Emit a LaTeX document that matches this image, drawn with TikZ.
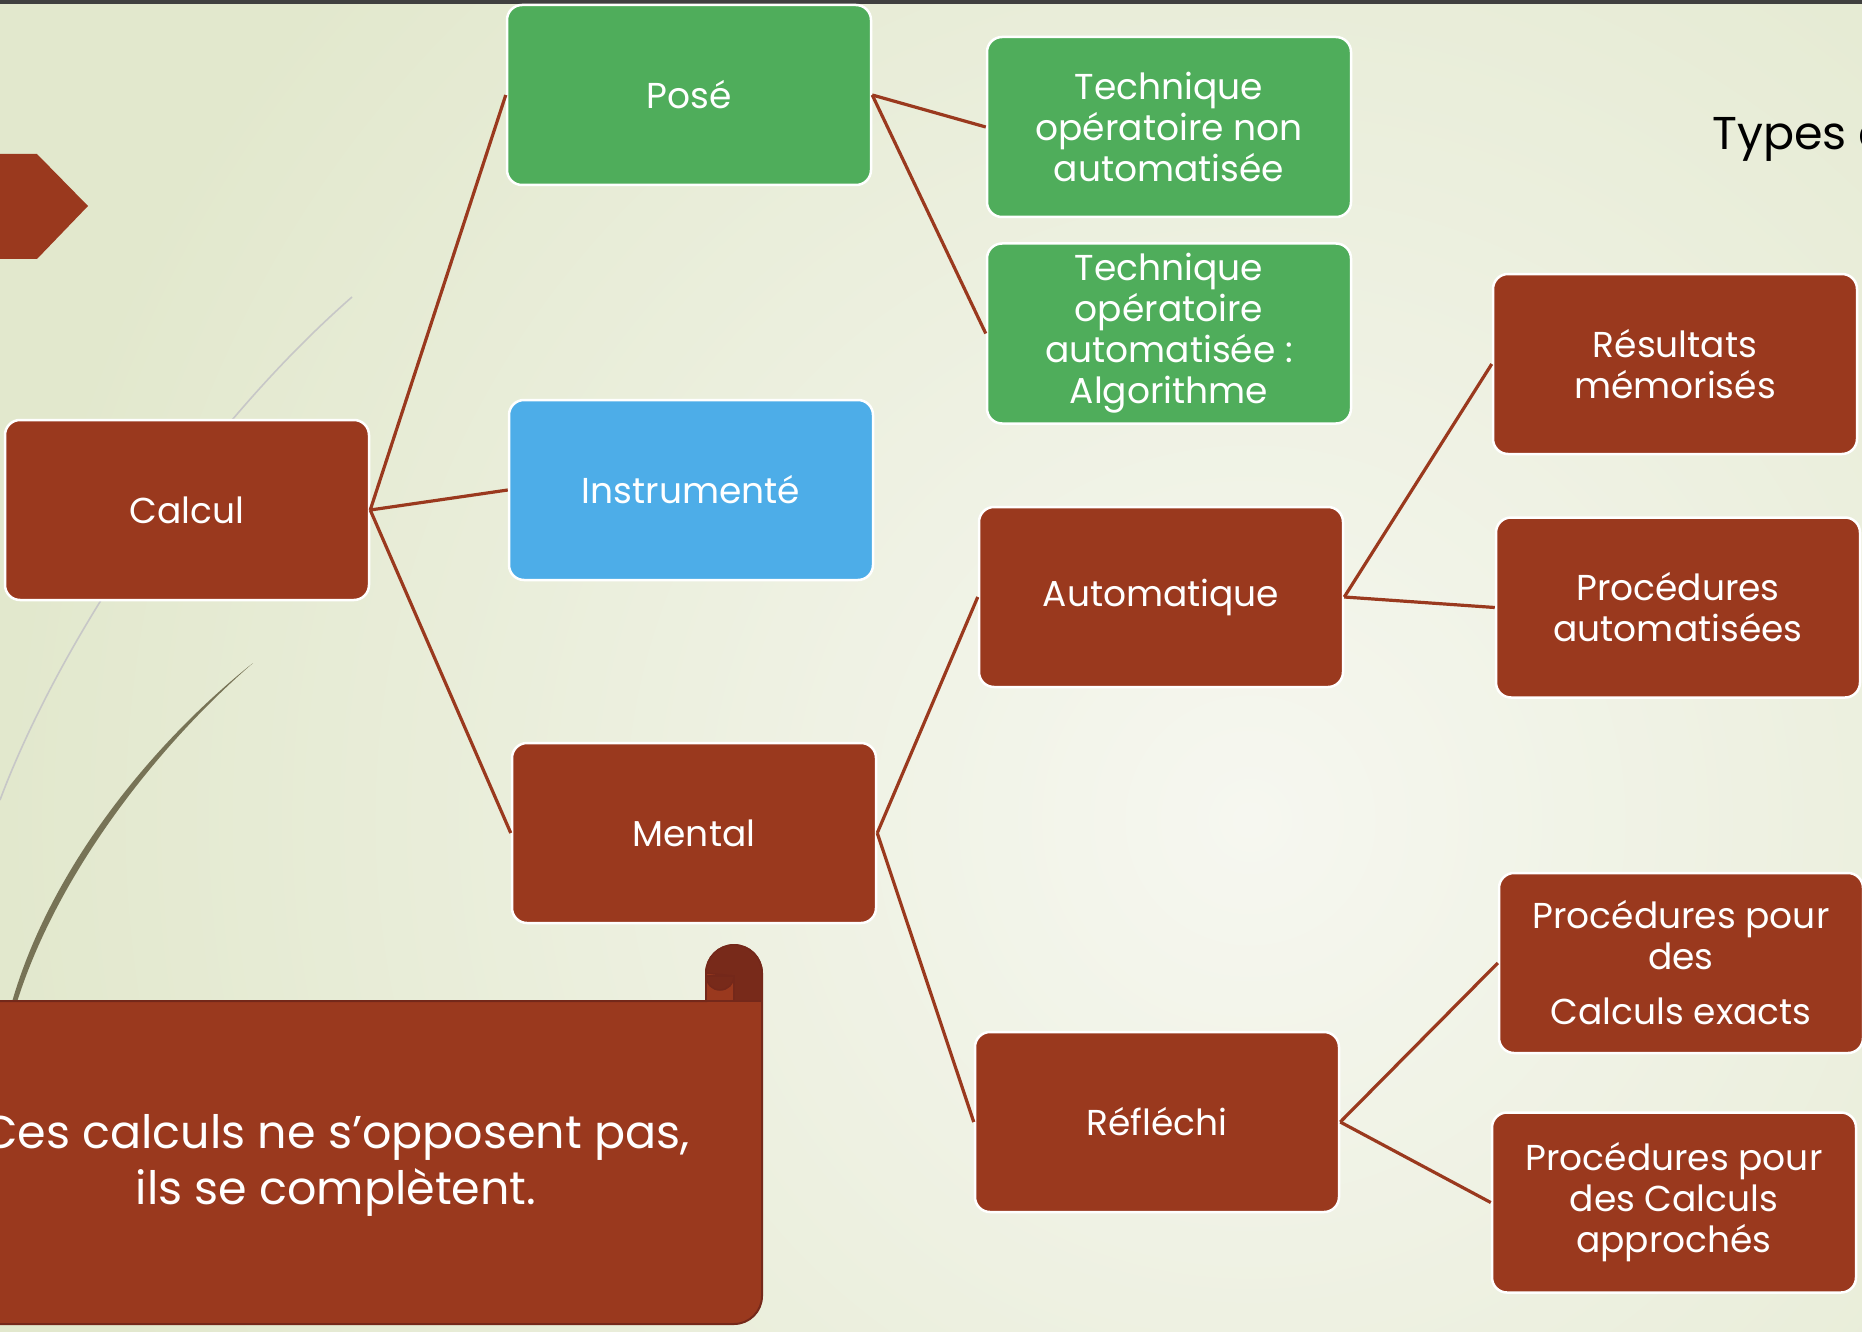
\documentclass[tikz,border=0pt]{standalone}
\usepackage{fontspec}
\setmainfont{Poppins}
\usetikzlibrary{positioning}

\definecolor{brique}{HTML}{9A391E}
\definecolor{briquefonce}{HTML}{74281A}
\definecolor{herbe}{HTML}{4FAD5B}
\definecolor{ciel}{HTML}{4DADE8}
\definecolor{fondA}{HTML}{E2E8CD}
\definecolor{fondB}{HTML}{F6F7F0}

\tikzset{
  boite/.style={draw=white, line width=2.5pt, rounded corners=15pt, text=white,
    align=center, minimum width=364pt, minimum height=180pt, inner sep=0pt,
    font=\fontsize{36}{41}\selectfont},
  rouge/.style={boite, fill=brique},
  vert/.style={boite, fill=herbe},
  bleu/.style={boite, fill=ciel},
  lien/.style={draw=brique, line width=3.2pt}
}

\begin{document}
\begin{tikzpicture}[x=1pt, y=-1pt]
  \path[use as bounding box, clip] (0,0) rectangle (1862,1332);

  % fond
  \fill[fondA] (0,0) rectangle (1862,1332);
  \shade[inner color=fondB, outer color=fondA] (1250,820) circle (1250);
  \fill[black!75] (0,0) rectangle (1862,4);

  % courbes decoratives
  \draw[black!22, line width=1.6pt] (352,297) .. controls (200,430) and (60,640) .. (0,800);
  \fill[black!45!olive!50!gray] (253,663) .. controls (150,745) and (50,870) .. (12,1002)
    -- (17,1002) .. controls (57,875) and (155,748) .. (253,663);

  % fleche
  \fill[brique] (0,154) -- (37,154) -- (88,206) -- (37,259) -- (0,259) -- cycle;

  % titre
  \node[anchor=base west, font=\fontsize{46}{54}\selectfont, inner sep=0pt] (titre) at (1712,150) {Types d};

  % rouleau
  \filldraw[fill=brique, draw=briquefonce, line width=2pt]
    (-80,1001) -- (706,1001) -- (706,973) arc[start angle=180, end angle=360, radius=28]
    [rounded corners=28pt] -- (762,1324) -- (-80,1324) -- cycle;
  \filldraw[fill=briquefonce!90!brique, draw=briquefonce, line width=1.5pt]
    (706,973) arc[start angle=180, end angle=360, radius=28] -- (762,1001) -- (734,1001) -- (734,976) -- cycle;
  \filldraw[fill=brique, draw=briquefonce, line width=1.5pt] (706,976) rectangle (734,1001);
  \filldraw[fill=briquefonce!90!brique, draw=briquefonce, line width=1.5pt]
    (706,976) arc[start angle=180, end angle=0, radius=14] -- cycle;
  \node[text=white, align=center, font=\fontsize{46}{56}\selectfont] (message) at (336,1165)
    {Ces calculs ne s’opposent pas,\\ils se complètent.};

  % arbre
  \node[rouge] (calc) at (187,510) {Calcul};
  \node[vert] (pose) at (689,95) {Posé};
  \node[bleu] (instr) at (691,490) {Instrumenté};
  \node[rouge] (mental) at (694,833) {Mental};

  \node[vert] (tna) at (1169,127) {Technique\\opératoire non\\automatisée};
  \node[vert, below=24pt of tna] (ta) {Technique\\opératoire\\automatisée :\\Algorithme};
  \node[rouge] (auto) at (1161,597) {Automatique};
  \node[rouge] (refl) at (1157,1122) {Réfléchi};

  \node[rouge] (resm) at (1675,364) {Résultats\\mémorisés};
  \node[rouge, below=61pt of resm, xshift=3pt] (proca) {Procédures\\automatisées};
  \node[rouge] (procx) at (1681,963) {Procédures pour\\des\\[14pt]Calculs exacts};
  \node[rouge, below=57pt of procx, xshift=-7pt] (procap) {Procédures pour\\des Calculs\\approchés};

  \draw[lien] (calc.east) -- (pose.west);
  \draw[lien] (calc.east) -- (instr.west);
  \draw[lien] (calc.east) -- (mental.west);
  \draw[lien] (pose.east) -- (tna.west);
  \draw[lien] (pose.east) -- (ta.west);
  \draw[lien] (mental.east) -- (auto.west);
  \draw[lien] (mental.east) -- (refl.west);
  \draw[lien] (auto.east) -- (resm.west);
  \draw[lien] (auto.east) -- (proca.west);
  \draw[lien] (refl.east) -- (procx.west);
  \draw[lien] (refl.east) -- (procap.west);
\end{tikzpicture}
\end{document}
